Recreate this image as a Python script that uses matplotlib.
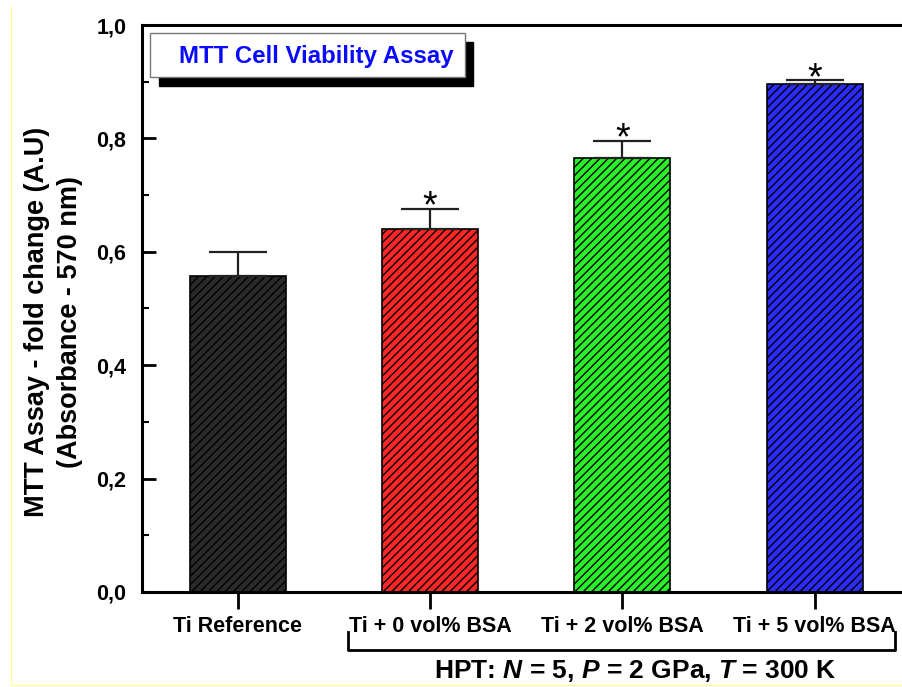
import matplotlib
matplotlib.use('Agg')
import matplotlib.pyplot as plt
from matplotlib.patches import Rectangle
from matplotlib.lines import Line2D

# data
groups = ['Ti Reference', 'Ti + 0 vol% BSA', 'Ti + 2 vol% BSA', 'Ti + 5 vol% BSA']
viability = [0.558, 0.641, 0.766, 0.896]
errors = [0.041, 0.035, 0.030, 0.007]
signif = [False, True, True, True]
bar_colors = ['#2a2a2a', '#ff2626', '#2af02a', '#2c2cff']
yticks = [0.0, 0.2, 0.4, 0.6, 0.8, 1.0]
ytick_labels = ['0,0', '0,2', '0,4', '0,6', '0,8', '1,0']

plt.rcParams['font.family'] = ['Liberation Sans', 'DejaVu Sans']
plt.rcParams['font.weight'] = 'bold'
plt.rcParams['hatch.linewidth'] = 1.0
plt.rcParams['mathtext.fontset'] = 'custom'
plt.rcParams['mathtext.it'] = 'Liberation Sans:italic:bold'
plt.rcParams['mathtext.rm'] = 'Liberation Sans:bold'

fig = plt.figure(figsize=(9.03, 6.87), dpi=100)
ax = fig.add_axes([0.1567, 0.1383, 0.852, 0.8253])

x = list(range(len(groups)))
ax.bar(x, viability, width=0.5, color=bar_colors, edgecolor='black',
       linewidth=1.2, hatch='////', zorder=2)
ax.errorbar(x, viability, yerr=[[0] * len(errors), errors], fmt='none',
            ecolor='#222222', elinewidth=1.6, capsize=21, capthick=1.6, zorder=3)
for xi, v, e, s in zip(x, viability, errors, signif):
    if s:
        ax.text(xi, v + e - 0.016, '*', ha='center', va='baseline',
                fontsize=27, fontweight='normal')

ax.set_xlim(-0.5, 3.5)
ax.set_ylim(0, 1.0)
ax.set_yticks(yticks)
ax.set_yticklabels(ytick_labels, fontsize=15.5, fontweight='bold')
ax.set_yticks([0.1, 0.3, 0.5, 0.7, 0.9], minor=True)
ax.tick_params(axis='y', which='major', direction='in', length=10, width=2, pad=11)
ax.tick_params(axis='y', which='minor', direction='in', length=5, width=1.5)
ax.set_xticks(x)
ax.set_xticklabels(groups, fontsize=15.5, fontweight='bold')
ax.tick_params(axis='x', direction='out', length=12, width=2, pad=5)
ax.spines['right'].set_visible(False)
for s in ['left', 'bottom', 'top']:
    ax.spines[s].set_linewidth(2.2)

fig.text(54 / 903, 1 - 322 / 687,
         'MTT Assay - fold change (A.U)\n(Absorbance - 570 nm)',
         fontsize=19.5, fontweight='bold', rotation=90, linespacing=1.35,
         ha='center', va='center', multialignment='center')

# title box with drop shadow
ax.add_patch(Rectangle((159 / 903, 1 - 86 / 687), 314 / 903, 44 / 687,
                       transform=fig.transFigure, facecolor='black',
                       edgecolor='black', zorder=5, clip_on=False))
ax.add_patch(Rectangle((150 / 903, 1 - 77 / 687), 315 / 903, 44 / 687,
                       transform=fig.transFigure, facecolor='white',
                       edgecolor='#777777', linewidth=1, zorder=6, clip_on=False))
fig.text(316 / 903, 1 - 56 / 687, 'MTT Cell Viability Assay', color='#0a0aff',
         fontsize=17.3, fontweight='bold', ha='center', va='center', zorder=7)

# bracket under HPT-processed samples
bx0, bx1, by0, by1 = 348 / 903, 895 / 903, 1 - 632 / 687, 1 - 650 / 687
fig.add_artist(Line2D([bx0, bx0, bx1, bx1], [by0, by1, by1, by0],
                      transform=fig.transFigure, color='black', linewidth=2))
fig.text(635 / 903, 1 - 671 / 687,
         r'HPT: $\mathit{N}$ = 5, $\mathit{P}$ = 2 GPa, $\mathit{T}$ = 300 K',
         fontsize=19, fontweight='bold', ha='center', va='center')

# faint page border
fig.add_artist(Line2D([11 / 903, 11 / 903, 1], [1 - 7 / 687, 1 - 685 / 687, 1 - 685 / 687],
                      transform=fig.transFigure, color='#ffff99', linewidth=1))

fig.savefig('out.png', dpi=100)
